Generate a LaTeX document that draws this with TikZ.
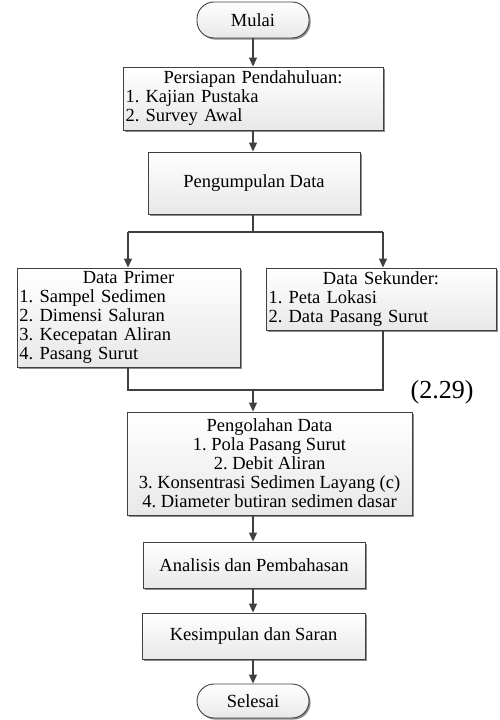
\documentclass[tikz,border=0pt]{standalone}
\usepackage{fontspec}
\setmainfont{Liberation Serif}
\usetikzlibrary{arrows.meta,shadows}
\definecolor{edge}{HTML}{404040}
\frenchspacing
\tikzset{
  box/.style={draw=edge, line width=0.9pt, top color=white, bottom color=black!9,
    drop shadow={shadow xshift=1.6pt, shadow yshift=-1.6pt, fill=black!45, opacity=1},
    inner xsep=2.5pt, inner ysep=0pt,
    font=\fontsize{18.5}{19}\selectfont, text=black},
  term/.style={box, rounded corners=17pt},
  conn/.style={draw=edge, line width=1.1pt},
  arr/.style={conn, -{Triangle[length=9pt,width=8pt]}},
}
\begin{document}
\begin{tikzpicture}[x=1pt,y=-1pt]
\useasboundingbox (0,0) rectangle (499,720);
\node[term, minimum width=112pt, minimum height=36pt] (start) at (253,20) {Mulai};
\node[box, minimum width=260pt, minimum height=63pt, text width=255pt, align=left] (prep) at (253,98.5)
  {\makebox[\linewidth][c]{Persiapan Pendahuluan:}\\1. Kajian Pustaka\\2. Survey Awal};
\node[box, minimum width=212pt, minimum height=62pt] (coll) at (254,183) {Pengumpulan Data};
\node[box, minimum width=223pt, minimum height=99pt, text width=218pt, align=left] (prim) at (128.5,317.5)
  {\makebox[\linewidth][c]{Data Primer}\\1. Sampel Sedimen\\2. Dimensi Saluran\\3. Kecepatan Aliran\\4. Pasang Surut};
\node[box, minimum width=230pt, minimum height=62pt, text width=225pt, align=left] (sek) at (381,299)
  {\makebox[\linewidth][c]{Data Sekunder:}\\1. Peta Lokasi\\2. Data Pasang Surut};
\node[box, minimum width=285pt, minimum height=103pt, align=center] (proc) at (269.5,463.5)
  {Pengolahan Data\\1. Pola Pasang Surut\\2. Debit Aliran\\3. Konsentrasi Sedimen Layang (c)\\4. Diameter butiran sedimen dasar};
\node[box, minimum width=222pt, minimum height=46pt] (anal) at (254,565) {Analisis dan Pembahasan};
\node[box, minimum width=223pt, minimum height=46pt] (conc) at (253.5,636) {Kesimpulan dan Saran};
\node[term, minimum width=112pt, minimum height=34pt] (end) at (253,701) {Selesai};
\node[font=\fontsize{26}{28}\selectfont, inner sep=0pt] (eq) at (442,392) {(2.29)};

\coordinate (b) at (253,232);
\coordinate (bl) at (128,232);
\coordinate (br) at (383,232);
\coordinate (ml) at (128,390);
\coordinate (mr) at (383,390);
\coordinate (mc) at (253,390);

\draw[arr] (start.south -| b) -- (prep.north -| b);
\draw[arr] (prep.south -| b) -- (coll.north -| b);
\draw[conn] (coll.south -| b) -- (b);
\draw[conn] (bl) -- (br);
\draw[arr] (bl) -- (prim.north -| bl);
\draw[arr] (br) -- (sek.north -| br);
\draw[conn] (prim.south -| ml) -- (ml) -- (mr) -- (sek.south -| mr);
\draw[arr] (mc) -- (proc.north -| mc);
\draw[arr] (proc.south -| mc) -- (anal.north -| mc);
\draw[arr] (anal.south -| mc) -- (conc.north -| mc);
\draw[arr] (conc.south -| mc) -- (end.north -| mc);
\end{tikzpicture}
\end{document}
